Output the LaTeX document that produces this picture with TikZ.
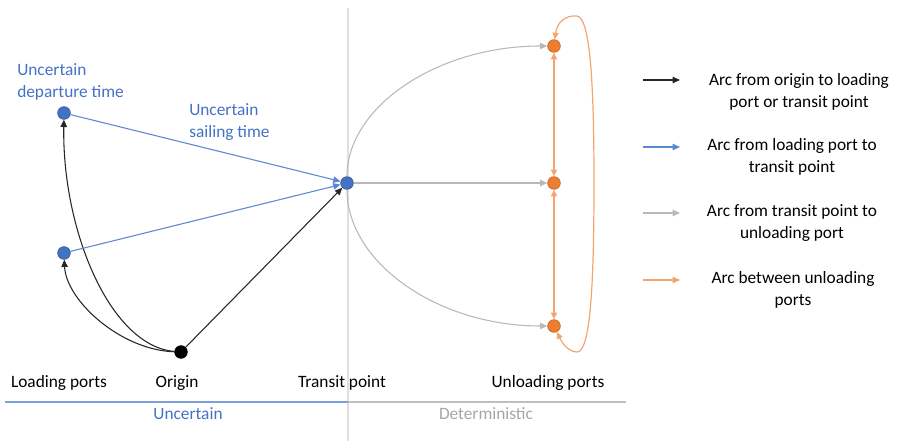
\documentclass[tikz,border=0pt]{standalone}
\usepackage{fontspec}
\setmainfont{Carlito}
\usetikzlibrary{arrows.meta}
\definecolor{nodeblue}{HTML}{4472C4}
\definecolor{lineblue}{HTML}{5B87D3}
\definecolor{nodeorange}{HTML}{ED7D31}
\definecolor{lineorange}{HTML}{F4A46F}
\definecolor{linegray}{HTML}{B8B8B8}
\definecolor{sepgray}{HTML}{E0E0E0}
\definecolor{textgray}{HTML}{A6A6A6}
\tikzset{
  dot/.style={circle, inner sep=0pt, minimum size=9.5pt, line width=0.5pt},
  bluedot/.style={dot, fill=nodeblue, draw=nodeblue!80!black},
  orangedot/.style={dot, fill=nodeorange, draw=nodeorange!85!black},
  blackdot/.style={dot, fill=black, draw=black},
  tip/.style={-{Triangle[length=5.5pt,width=4.8pt]}},
  bitip/.style={{Triangle[length=5pt,width=4.5pt]}-{Triangle[length=5pt,width=4.5pt]}},
  blackarc/.style={tip, draw=black!85, line width=0.8pt},
  bluearc/.style={tip, draw=lineblue, line width=0.8pt},
  grayarc/.style={tip, draw=linegray, line width=0.8pt},
  orangearc/.style={bitip, draw=lineorange, line width=0.9pt},
  label/.style={font=\fontsize{13}{16}\selectfont, inner sep=0pt},
  legendtext/.style={label, align=center},
}
\begin{document}
\begin{tikzpicture}[x=0.75pt, y=-0.75pt]
  \useasboundingbox (0,0) rectangle (897,441);

  % separator between uncertain and deterministic parts
  \draw[sepgray, line width=0.9pt] (348,8) -- (348,441);
  \draw[lineblue!80, line width=0.9pt] (5,402) -- (348,402);
  \draw[linegray!90, line width=0.9pt] (348,402) -- (626,402);

  % nodes
  \node[bluedot] (lp1) at (64,113) {};
  \node[bluedot] (lp2) at (64,253) {};
  \node[blackdot] (orig) at (181,352) {};
  \node[bluedot] (tp) at (347,183) {};
  \node[orangedot] (up1) at (554,46) {};
  \node[orangedot] (up2) at (554,183) {};
  \node[orangedot] (up3) at (554,326) {};

  % origin to loading ports and transit point
  \draw[blackarc] (orig) .. controls (110,346) and (62,230) .. (lp1);
  \draw[blackarc] (orig) .. controls (120,350) and (66,300) .. (lp2);
  \draw[blackarc] (orig) -- (tp);

  % loading ports to transit point
  \draw[bluearc] (lp1) -- (tp);
  \draw[bluearc] (lp2) -- (tp);

  % transit point to unloading ports
  \draw[grayarc] (tp) .. controls (347,107) and (437,46) .. (up1);
  \draw[grayarc] (tp) -- (up2);
  \draw[grayarc] (tp) .. controls (347,262) and (437,326) .. (up3);

  % arcs between unloading ports
  \draw[orangearc] (up1) -- (up2);
  \draw[orangearc] (up2) -- (up3);
  \coordinate (lt) at (577,16);
  \coordinate (lb) at (577,352);
  \draw[orangearc] (up1) .. controls (557,22) and (566,15) .. (lt)
    .. controls (590,18) and (594,80) .. (594,183)
    .. controls (594,290) and (590,352) .. (lb)
    .. controls (570,352) and (563,345) .. (up3);

  % texts
  \node[label, nodeblue, anchor=west, align=left] (udt) at (17,82) {Uncertain\\departure time};
  \node[label, nodeblue, anchor=west, align=left] (ust) at (189,122) {Uncertain\\sailing time};
  \node[label] (lpl) at (59,383) {Loading ports};
  \node[label] (orl) at (177,383) {Origin};
  \node[label] (tpl) at (342,383) {Transit point};
  \node[label] (upl) at (548,383) {Unloading ports};
  \node[label, nodeblue] (unc) at (188,414) {Uncertain};
  \node[label, textgray] (det) at (486,414) {Deterministic};

  % legend
  \coordinate (a1) at (643,80);  \coordinate (b1) at (680,80);
  \coordinate (a2) at (643,147); \coordinate (b2) at (680,147);
  \coordinate (a3) at (643,213); \coordinate (b3) at (680,213);
  \coordinate (a4) at (643,280); \coordinate (b4) at (680,280);
  \draw[blackarc] (a1) -- (b1);
  \draw[bluearc] (a2) -- (b2);
  \draw[grayarc] (a3) -- (b3);
  \draw[tip, draw=lineorange, line width=0.9pt] (a4) -- (b4);
  \node[legendtext] (l1) at (799,92) {Arc from origin to loading\\port or transit point};
  \node[legendtext] (l2) at (792,157) {Arc from loading port to\\transit point};
  \node[legendtext] (l3) at (792,223) {Arc from transit point to\\unloading port};
  \node[legendtext] (l4) at (793,290) {Arc between unloading\\ports};
\end{tikzpicture}
\end{document}
